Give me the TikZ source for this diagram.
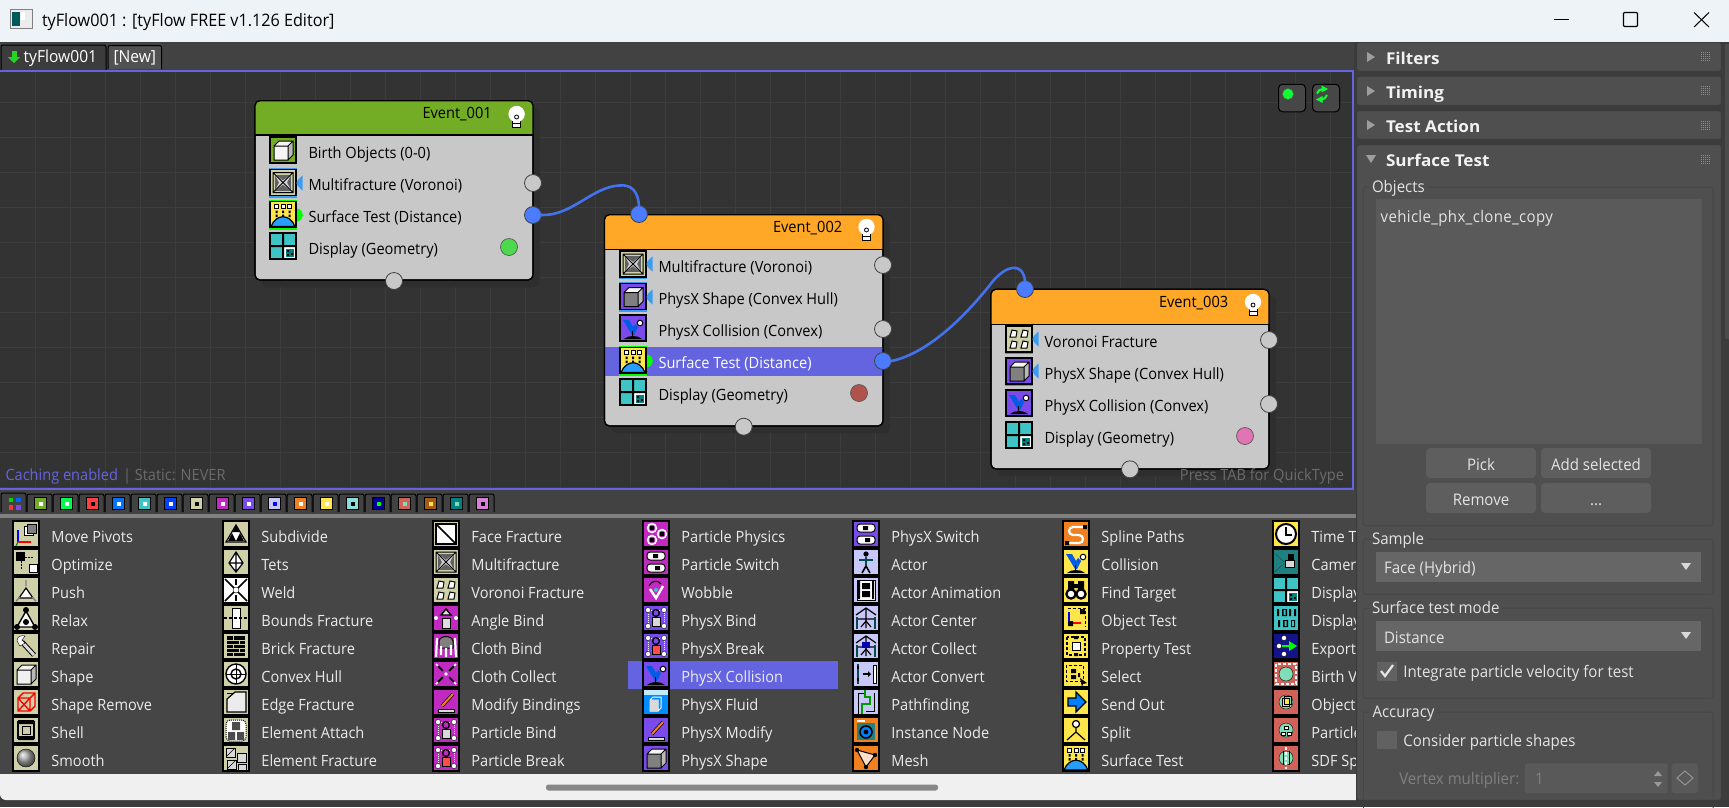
\documentclass[tikz,border=0pt]{standalone}
\usepackage{fontspec}
\setmainfont[FakeStretch=0.94]{Open Sans}
\newfontfamily\rollfont[FakeStretch=1.05]{Open Sans}
\definecolor{selblue}{HTML}{6464E0}
\definecolor{canvasbg}{HTML}{333333}
\definecolor{gridc}{HTML}{3D3D3D}
\definecolor{nodegray}{HTML}{C8C8C8}
\definecolor{evgreen}{HTML}{73AD25}
\definecolor{evorange}{HTML}{FFA726}
\definecolor{wirec}{HTML}{4472EE}
\definecolor{portblue}{HTML}{4B7BFF}
\definecolor{listbg}{HTML}{464646}
\definecolor{panelbg}{HTML}{3C3C3C}
\definecolor{rollbg}{HTML}{4F4F4F}
\definecolor{rollln}{HTML}{3A3A3A}
\definecolor{boxbg}{HTML}{5A5A5A}
\definecolor{btnbg}{HTML}{5E5E5E}
\definecolor{combobg}{HTML}{666666}
\definecolor{paneltx}{HTML}{E4E4E4}
\definecolor{titlebg}{HTML}{EEF3F8}
\definecolor{tabbg}{HTML}{424242}
\definecolor{beige}{HTML}{CFCFA8}
\definecolor{mag}{HTML}{C02AC0}
\definecolor{purp}{HTML}{7A4BEA}
\definecolor{lav}{HTML}{C8C8F8}
\definecolor{yel}{HTML}{FFE64A}
\definecolor{ora}{HTML}{F08020}
\definecolor{tea}{HTML}{3EC4C4}
\definecolor{sal}{HTML}{D0625A}
\definecolor{mint}{HTML}{80DDB8}
\definecolor{tagblue}{HTML}{3E9CF0}
\tikzset{
 x=1pt,y=-1pt,
 every node/.style={inner sep=0pt,outer sep=0pt},
 txh/.style={text height=14pt,text depth=3.4pt},
 rowtx/.style={txh,anchor=west,text=black,font=\fontsize{15.5}{18}\selectfont},
 listtx/.style={txh,anchor=west,text=white!92!black,font=\fontsize{15.5}{18}\selectfont},
 paneltext/.style={txh,anchor=west,text=paneltx,font=\fontsize{16}{18}\selectfont},
 rolltx/.style={txh,anchor=west,text=white!95!black,font=\rollfont\fontsize{16.3}{18}\selectfont\bfseries},
 cantx/.style={txh,text=white!42!black,font=\fontsize{15.5}{18}\selectfont},
 port/.style={circle,draw=black!75,line width=.8pt,fill=nodegray,minimum size=17pt},
 blueport/.style={port,fill=portblue},
 disp/.style={circle,draw=black!65,line width=.7pt,minimum size=17pt},
 wire/.style={wirec,line width=2.6pt,line cap=round},
 grp/.style={draw=black!72,line width=1pt,rounded corners=3pt},
 btn/.style={text height=16pt,text depth=2pt,fill=btnbg,rounded corners=4pt,minimum width=110pt,minimum height=30pt,text=paneltx,font=\fontsize{16}{18}\selectfont},
 evbody/.style={draw=black,line width=1.2pt,fill=nodegray,rounded corners=5pt,minimum width=278pt,anchor=north west},
 canbtn/.style={draw=black,line width=1pt,fill=white!28!black,rounded corners=4pt,minimum width=27pt,minimum height=27.5pt},
}
% ---- icon glyphs: local box is 0..26 by 0..26
\newcommand\BX[1]{\fill[#1](0,0)rectangle(26,26);}
\newcommand\FR{\draw[black,line width=1.2pt](0,0)rectangle(26,26);}
\newcommand\icCube[2]{\BX{#1}\fill[#2](4,9)rectangle(18,23);\fill[white!92!gray](4,9)--(9,4)--(23,4)--(18,9)--cycle;\fill[white!45!gray](18,9)--(23,4)--(23,18)--(18,23)--cycle;\draw[black,line width=1pt](4,9)rectangle(18,23)(4,9)--(9,4)--(23,4)--(23,18)--(18,23)(18,9)--(23,4);\FR}
\newcommand\icMulti{\BX{beige}\fill[black!62](5,5)rectangle(21,21);\fill[white!82!black](5,5)--(13,11)--(21,5)--(17,13)--(21,21)--(13,15)--(5,21)--(9,13)--cycle;\draw[black,line width=1pt](3,3)--(5,5)--(21,21)--(23,23)(23,3)--(21,5)--(5,21)--(3,23)(3,3)--(23,3)--(23,23)--(3,23)--cycle;\FR}
\newcommand\icVoro{\BX{beige}\foreach \a/\b in {4/4,15/4,4/15,15/15}{\draw[black,fill=white,line width=1pt](\a,\b+7)--(\a+2,\b)--(\a+7,\b+1)--(\a+6,\b+7)--cycle;}\FR}
\newcommand\icSurf{\BX{yel}\foreach \a in {4.5,11,17.5}{\draw[black,fill=white,line width=1pt](\a,3)rectangle(\a+4,7);\fill[black](\a+1,9)rectangle(\a+3,11.5)(\a+1,13)rectangle(\a+3,15.5);}\draw[black,fill=blue!45!cyan!85,line width=1.2pt](1,25)..controls(6,12)and(20,12)..(25,25)--cycle;\FR}
\newcommand\icDisp{\BX{tea}\fill[white](14,14)rectangle(26,26);\fill[black](0,12)rectangle(26,14)(12,0)rectangle(14,26);\fill[teal](16,16)rectangle(24,24);\fill[black](17,17)rectangle(19,19)(21,20)rectangle(23,22)(17,21)rectangle(19,23);\FR}
\newcommand\icColl[1]{\BX{#1}\fill[black](4,24)..controls(8,20)and(18,20)..(22,24)--cycle;\fill[blue!60!cyan!90!black](3,5)--(9,5)--(13,12)--(15,9)--(18,12)--(14,20)--(12,20)--cycle;\draw[black,line width=1pt](12,16)--(12,21);\draw[black,fill=white,line width=1pt](20,8)circle(2.8);\FR}
\newcommand\GL[1]{\BX{beige}#1\FR}
\newcommand\MG[1]{\BX{mag}#1\FR}
\newcommand\PU[1]{\BX{purp}#1\FR}
\newcommand\LV[1]{\BX{lav}#1\FR}
\newcommand\YE[1]{\BX{yel}#1\FR}
\newcommand\OR[1]{\BX{ora}#1\FR}
\newcommand\SL[1]{\BX{sal}#1\FR}
\newcommand\icSwitch{\draw[black,fill=white,rounded corners=3pt,line width=1pt](4,3)rectangle(22,11)(4,15)rectangle(22,23);\fill[black](10,5)rectangle(15,9)(12,17)rectangle(17,21);}
\newcommand\icBind[1]{\draw[white,densely dotted,line width=1pt](5,5)rectangle(21,21);\foreach \a/\b in {5/5,21/5,5/21,21/21}{\fill[white,draw=black](\a,\b)circle(2.6);}\draw[black,fill=#1,line width=1pt](9,12)rectangle(17,21);\draw[black,line width=1.4pt](13,8)circle(3.4);}
\newcommand\icActor{\fill[black](13,5)circle(2.6);\draw[teal!60!black,line width=2.2pt](13,8)--(13,18)(6,11)--(20,11);\draw[black,line width=1.6pt](13,17)--(9,24)(13,17)--(17,24);}
\newcommand\icNet{\draw[black,line width=1.2pt](3,10)--(13,3)--(23,10)(13,3)--(13,23)(5,14)--(21,14);\draw[teal!60!black,line width=2pt](4,12)--(4,24)(22,12)--(22,24);\draw[black,line width=1.2pt](8,22)--(13,16)--(18,22);}
\newcommand\icBlob{\fill[mint,draw=black](13,13)circle(7);}
% ---- list entry: x of icon, row index, icon, label
\newcommand\LI[4]{\begin{scope}[shift={(#1,521+28*#2)}]#3\end{scope}\node[listtx] (li#1r#2) at ({#1+38.4},536.7+28*#2) {#4};}
% ---- small tags beside a node row icon
\newcommand\TG[2]{\fill[tagblue]({#1+6},#2-7.5)..controls({#1+3},#2-5)and(#1,#2-2)..(#1,#2)..controls(#1,#2+2)and({#1+3},#2+5)..({#1+6},#2+7.5)--cycle;}
\newcommand\GT[2]{\fill[green](#1,#2-6.5)..controls({#1+8},#2-5)and({#1+8},#2+5)..(#1,#2+6.5)--cycle;}
\newcommand\RI[3]{\begin{scope}[shift={(#1,#2)}]#3\end{scope}}
\newcommand\SELB[3]{\draw[#3,line width=1.4pt](#1-.7,#2-.7)rectangle(#1+26.7,#2+27.3);}
\newcommand\BULB[2]{\draw[black,line width=.8pt,fill=white](#1-4,#2+3)rectangle(#1+4,#2+10);\draw[black,line width=.8pt](#1-4,#2+6.5)--(#1+4,#2+6.5);\fill[white](#1,#2-3)circle(8.2);\draw[black,line width=.8pt](#1,#2)circle(2);}
\newcommand\CT[3]{\draw[black,line width=1pt,fill=tabbg,rounded corners=2pt]({1+26*#1},512)--({1+26*#1},494)--({26+26*#1},494)--({26+26*#1},512);\fill[#2,draw=black,line width=1pt]({8.5+26*#1},497.5)rectangle({20.5+26*#1},509.5);\fill[#3]({12.5+26*#1},501.5)rectangle({16.5+26*#1},505.5);}
\newcommand\GRIP[1]{\foreach \k in {0,1,2,3,4}{\draw[white!55!black,line width=.9pt,dash pattern=on 1pt off 1pt](1701,#1-4+2*\k)--(1711,#1-4+2*\k);}}
\newcommand\ROLL[4]{\fill[rollbg,draw=rollln,rounded corners=2pt](1357,#1)rectangle(1721,#2);\node[rolltx] (roll#1) at (1386,#1+16) {#3};#4\GRIP{#1+14}}
\newcommand\TR[1]{\fill[white!62!black](1367,#1-5)--(1367,#1+5)--(1375,#1)--cycle;}
\newcommand\DD[1]{\fill[white!85!black](1681,#1-3)--(1691,#1-3)--(1686,#1+4)--cycle;}
\begin{document}
\begin{tikzpicture}
\useasboundingbox (0,0) rectangle (1729,807);
\fill[panelbg] (0,0) rectangle (1729,807);
% title bar
\fill[titlebg] (0,0) rectangle (1729,42);
\fill[white!85!gray,draw=gray] (10,9) rectangle (32,28);
\fill[teal!70!black] (12,12) rectangle (20,26);
\fill[white] (21,12) rectangle (25,20);
\node[anchor=west,text=black,text height=16.4pt,text depth=3pt,font=\fontsize{17.2}{20}\selectfont] (title) at (42,20) {tyFlow001 : [tyFlow FREE v1.126 Editor]};
\draw[black,line width=1pt] (1554,19.5) -- (1569,19.5);
\draw[black,line width=1.2pt,rounded corners=1pt] (1623.5,12.5) rectangle (1637.5,26.5);
\draw[black,line width=1pt] (1694,12.5) -- (1709,27) (1709,12.5) -- (1694,27);
% tab bar
\fill[tabbg] (0,42) rectangle (1354,70);
\draw[black,line width=1pt,fill=panelbg,rounded corners=2pt] (1,70) -- (1,45) -- (106,45) -- (106,70);
\draw[black,line width=1pt,fill=tabbg!92!white,rounded corners=2pt] (108,69) -- (108,45.5) -- (161.5,45.5) -- (161.5,69);
\fill[green!80!black!85] (8,57) -- (20,57) -- (14,63) -- cycle;
\fill[green!80!black!85] (11.5,51) rectangle (16.5,58);
\node[txh,anchor=west,text=white,font=\fontsize{16.6}{18}\selectfont] (tab1) at (23.7,57) {tyFlow001};
\node[txh,anchor=west,text=white,font=\fontsize{16.6}{18}\selectfont] (tab2) at (113.5,57) {[New]};
% canvas
\fill[canvasbg] (0,70) rectangle (1353,489);
\foreach \i in {1,...,38}{\draw[gridc,line width=1pt] ({35*\i},71) -- ({35*\i},488);}
\foreach \i in {0,...,11}{\draw[gridc,line width=1pt] (0,{102.7+35*\i}) -- (1352,{102.7+35*\i});}
\draw[selblue,line width=1.6pt] (0,70.7) -- (1352.7,70.7) -- (1352.7,488.7) -- (0,488.7);
\node[cantx,anchor=west,text=selblue] (cache) at (5.5,475) {Caching enabled};
\node[cantx,anchor=west] (stat) at (123,475) {| Static: NEVER};
% canvas buttons
\node[canbtn] (bt1) at (1292,98) {};
\node[canbtn] (bt2) at (1326,98) {};
\fill[green!85!cyan!95,draw=black!60] (1288,94) circle (5.5);
\draw[green!85!cyan!95,line width=2pt] (1317,93.5) .. controls (1318,90.5) and (1320,89) .. (1323,89);
\fill[green!85!cyan!95] (1321.5,85.5) -- (1321.5,92.5) -- (1328,89) -- cycle;
\draw[green!85!cyan!95,line width=2pt] (1327,95) .. controls (1326,98) and (1324,99.5) .. (1321,99.5);
\fill[green!85!cyan!95] (1322.5,96) -- (1322.5,103) -- (1316,99.5) -- cycle;
% ===== Event_001
\fill[black!82,rounded corners=5pt] (262,108) rectangle (540,287);
\node[evbody,minimum height=179.3pt] (ev1) at (255,100.7) {};
\begin{scope}
\clip[rounded corners=5pt] (255,100.7) rectangle (533,280);
\fill[evgreen] (255,100) rectangle (533,135);
\end{scope}
\draw[black,line width=1.2pt] (255,135) -- (533,135);
\draw[black,line width=1.2pt,rounded corners=5pt] (255,100.7) rectangle (533,280);
\node[rowtx] (ev1t) at (422.5,113) {Event\_001};
\BULB{516.6}{117}
\RI{270}{137}{\icCube{evgreen}{white!92!gray}}
\SELB{270}{169.5}{tagblue}\RI{270}{169.5}{\icMulti}\TG{296.5}{183}
\SELB{270}{201.5}{green}\RI{270}{201.5}{\icSurf}\GT{297}{215}
\RI{270}{233}{\icDisp}
\node[rowtx] (r11) at (308.5,153) {Birth Objects (0-0)};
\node[rowtx] (r12) at (308.5,185) {Multifracture (Voronoi)};
\node[rowtx] (r13) at (308.5,217) {Surface Test (Distance)};
\node[rowtx] (r14) at (308.5,249) {Display (Geometry)};
\node[port] (e1a) at (533,183) {};
\node[blueport] (e1o) at (533,215) {};
\node[disp,fill=green!65!white!85!black] (e1d) at (509,247) {};
\node[port] (e1b) at (394,281) {};
% ===== Event_002
\fill[black!82,rounded corners=5pt] (611.5,221) rectangle (890,433);
\node[evbody,minimum width=278.5pt,minimum height=211.3pt] (ev2) at (604.5,214.7) {};
\begin{scope}
\clip[rounded corners=5pt] (604.5,214.7) rectangle (883,426);
\fill[evorange] (604,214) rectangle (883,249.7);
\fill[selblue] (604,347) rectangle (883,376);
\end{scope}
\draw[black,line width=1.2pt] (604.5,249.7) -- (883,249.7);
\draw[black,line width=1.2pt,rounded corners=5pt] (604.5,214.7) rectangle (883,426);
\node[rowtx] (ev2t) at (773,226.7) {Event\_002};
\BULB{866.5}{230}
\SELB{620}{251}{tagblue}\RI{620}{251}{\icMulti}\TG{646.5}{264}
\SELB{620}{283.5}{tagblue}\RI{620}{283.5}{\icCube{purp}{gray}}\TG{646.5}{297}
\RI{620}{315}{\icColl{purp}}
\SELB{620}{347.5}{green}\RI{620}{347.5}{\icSurf}\GT{647}{361}
\RI{620}{379}{\icDisp}
\node[rowtx] (r21) at (658.5,266.7) {Multifracture (Voronoi)};
\node[rowtx] (r22) at (658.5,298.7) {PhysX Shape (Convex Hull)};
\node[rowtx] (r23) at (658.5,330.7) {PhysX Collision (Convex)};
\node[rowtx,text=white] (r24) at (658.5,362.7) {Surface Test (Distance)};
\node[rowtx] (r25) at (658.5,394.7) {Display (Geometry)};
\node[blueport] (e2i) at (639,214) {};
\node[port] (e2a) at (883,265) {};
\node[port] (e2b) at (883,329) {};
\node[blueport] (e2o) at (883,361) {};
\node[disp,fill=sal!85!black] (e2d) at (859,393) {};
\node[port] (e2c) at (743.7,426.7) {};
% ===== Event_003
\fill[black!82,rounded corners=5pt] (998,296) rectangle (1276,476);
\node[evbody,minimum height=179.7pt] (ev3) at (991,289.3) {};
\begin{scope}
\clip[rounded corners=5pt] (991,289.3) rectangle (1269,469);
\fill[evorange] (990,289) rectangle (1270,324.7);
\end{scope}
\draw[black,line width=1.2pt] (991,324.7) -- (1269,324.7);
\draw[black,line width=1.2pt,rounded corners=5pt] (991,289.3) rectangle (1269,469);
\node[rowtx] (ev3t) at (1159,301.7) {Event\_003};
\BULB{1253}{305}
\SELB{1006}{326}{tagblue}\RI{1006}{326}{\icVoro}\TG{1032.5}{339}
\SELB{1006}{358}{tagblue}\RI{1006}{358}{\icCube{purp}{gray}}\TG{1032.5}{371}
\RI{1006}{390}{\icColl{purp}}
\RI{1006}{422}{\icDisp}
\node[rowtx] (r31) at (1044.6,341.7) {Voronoi Fracture};
\node[rowtx] (r32) at (1044.6,373.7) {PhysX Shape (Convex Hull)};
\node[rowtx] (r33) at (1044.6,405.7) {PhysX Collision (Convex)};
\node[rowtx] (r34) at (1044.6,437.7) {Display (Geometry)};
\node[blueport] (e3i) at (1025,289) {};
\node[port] (e3a) at (1269,340) {};
\node[port] (e3b) at (1269,404) {};
\node[disp,fill=magenta!55!white!90!black] (e3d) at (1245,436) {};
\node[port] (e3c) at (1130,469.3) {};
\node[cantx,anchor=east] (press) at (1344,475) {Press TAB for QuickType};
% wires
\coordinate (w1) at (619,185.5);
\coordinate (w2) at (993,281);
\draw[wire] (e1o.east) .. controls (572,216) and (592,187) .. (w1) .. controls (632,184) and (638,192) .. (e2i.north);
\draw[wire] (e2o.east) .. controls (925,354) and (962,321) .. (w2) .. controls (1006,266) and (1022,261) .. (e3i.north);
% ===== lower list
\fill[tabbg] (0,489.5) rectangle (1356,514);
\fill[white!50!black] (0,514) rectangle (1356,518);
\fill[listbg] (0,518) rectangle (1356,774);
\draw[black,line width=1pt,fill=tabbg,rounded corners=2pt] (1,512) -- (1,493) -- (26,493) -- (26,512);
\fill[green!85!black] (8.5,497.5) rectangle (12.5,502);
\fill[blue!60!cyan] (16,497.5) rectangle (20.5,502);
\fill[red!80!white] (8.5,505) rectangle (12.5,509.5);
\fill[purp] (16,505) rectangle (20.5,509.5);
\CT{1}{evgreen}{white}\CT{2}{green!70!cyan}{white}\CT{3}{red!75!white}{black}\CT{4}{blue!55!cyan}{white}\CT{5}{tea}{white}\CT{6}{blue!75!cyan}{white}\CT{7}{beige}{black}\CT{8}{mag}{white}\CT{9}{purp}{white}\CT{10}{lav}{blue}\CT{11}{ora}{white}\CT{12}{yel}{white}\CT{13}{tea!60!white}{black}\CT{14}{blue!60!black}{green}\CT{15}{sal}{mint}\CT{16}{ora!70!black}{yel}\CT{17}{teal}{mint}\CT{18}{mag!60!white}{black}
% highlight
\fill[selblue] (628,661) rectangle (838,689);
% col 1
\LI{13}{0}{\GL{\draw[black,fill=white](11,5)rectangle(20,14);\draw[black,fill=gray](14,3)rectangle(23,12);\draw[blue,line width=1.2pt](5,21)--(5,9);\draw[red,line width=1.2pt](5,21)--(18,21);\draw[green!60!black,line width=1.2pt](5,21)--(3,25);}}{Move Pivots}
\LI{13}{1}{\GL{\fill[black](3,3)rectangle(12,12);\draw[black,fill=white](16,15)rectangle(24,23);\draw[black,densely dotted](12,8)--(20,8)(8,12)--(8,20);}}{Optimize}
\LI{13}{2}{\GL{\draw[black,fill=white,line width=1.2pt](13,11)--(20,21)--(6,21)--cycle;\draw[gray,line width=1.4pt](13,9)--(13,3)(3,24)--(7,20)(23,24)--(19,20);}}{Push}
\LI{13}{3}{\GL{\fill[white](13,6)--(22,22)--(4,22)--cycle;\draw[black,line width=1.4pt](13,6)--(22,22)--(4,22)--cycle;\fill[black](13,5)circle(3)(4,22)circle(3)(22,22)circle(3)(13,17)circle(3);}}{Relax}
\LI{13}{4}{\GL{\draw[black,line width=5pt](9,9)--(21,22);\draw[white!70!gray,line width=3pt](9,9)--(21,22);\draw[black,fill=white](4,8)..controls(4,3)and(9,2)..(12,3)--(9,7)--(12,10)--(7,13)--cycle;}}{Repair}
\LI{13}{5}{\icCube{beige}{white!88!gray}}{Shape}
\LI{13}{6}{\GL{\draw[red,line width=1.4pt](5,9)rectangle(17,22)(5,9)--(10,4)--(22,4)--(22,17)--(17,22)(17,9)--(22,4)(5,9)--(17,22)(17,9)--(5,22);}}{Shape Remove}
\LI{13}{7}{\GL{\draw[black,line width=1.4pt](5,5)rectangle(21,21);\fill[black](5,3)rectangle(21,7)(5,19)rectangle(21,23);\draw[black](9,9)rectangle(17,17);}}{Shell}
\LI{13}{8}{\GL{\shade[ball color=gray!70!white,draw=black](13,13)circle(9);}}{Smooth}
% col 2
\LI{223}{0}{\GL{\draw[black,fill=white,line width=1.2pt](13,4)--(23,21)--(3,21)--cycle;\fill[black](13,4)--(16.5,11)--(9.5,11)--cycle (9,12)--(13,20)--(5,20)--cycle (17,12)--(21,20)--(13,20)--cycle;}}{Subdivide}
\LI{223}{1}{\GL{\draw[black,fill=white,line width=1.2pt](13,3)--(20,14)--(13,23)--(6,14)--cycle(13,3)--(13,23)(6,14)--(20,14);}}{Tets}
\LI{223}{2}{\GL{\fill[white](0,0)rectangle(26,26);\draw[black,line width=1.6pt](2,2)--(24,24)(24,2)--(2,24);\draw[black,line width=1.8pt](13,2)--(13,8)(13,24)--(13,18);\fill[white,draw=black](13,13)circle(3);}}{Weld}
\LI{223}{3}{\GL{\fill[white,draw=black](9,3)rectangle(17,23);\draw[black,densely dashed,line width=1.2pt](1,13)--(25,13);}}{Bounds Fracture}
\LI{223}{4}{\GL{\fill[black](4,3)rectangle(22,23);\draw[beige,line width=1pt](4,7)--(22,7)(4,11)--(22,11)(4,15)--(22,15)(4,19)--(22,19)(10,3)--(10,7)(16,7)--(16,11)(10,11)--(10,15)(16,15)--(16,19)(10,19)--(10,23);}}{Brick Fracture}
\LI{223}{5}{\GL{\draw[black,fill=white,line width=1.4pt](13,13)circle(10);\draw[black,line width=1.4pt](13,13)circle(5);\draw[black,line width=1pt](3,13)--(23,13)(13,3)--(13,23);}}{Convex Hull}
\LI{223}{6}{\GL{\draw[black,fill=white!85!gray,line width=1.2pt](4,23)--(4,10)--(12,3)--(23,3)--(23,23)--cycle;\draw[black](4,4)--(11,4);}}{Edge Fracture}
\LI{223}{7}{\GL{\draw[black,densely dotted,fill=white,rounded corners=4pt,line width=1pt](3,24)--(3,3)--(23,3)--(23,24)--cycle;\fill[black!70](9,5)rectangle(17,13)(5,15)rectangle(12,23)(14,15)rectangle(21,23);}}{Element Attach}
\LI{223}{8}{\GL{\draw[black,fill=white!70!gray](3,3)rectangle(12,12)(14,8)rectangle(23,17)(4,15)rectangle(13,24)(15,19)rectangle(23,25);\draw[black](3,12)--(12,3)(4,24)--(13,15);}}{Element Fracture}
% col 3
\LI{433}{0}{\GL{\fill[white](3,3)rectangle(23,23);\draw[black,line width=1.6pt](3,3)rectangle(23,23)(3,3)--(23,23);}}{Face Fracture}
\LI{433}{1}{\icMulti}{Multifracture}
\LI{433}{2}{\icVoro}{Voronoi Fracture}
\LI{433}{3}{\MG{\draw[black,line width=1.4pt,fill=white!75!gray](8,10)--(13,4)--(18,10)--cycle;\draw[black,fill=white!75!gray,line width=1pt](9,13)rectangle(17,23);\fill[white](3,13)circle(2)(23,13)circle(2);}}{Angle Bind}
\LI{433}{4}{\MG{\draw[black,fill=gray,line width=1pt](6,15)--(6,8)..controls(7,2)and(19,2)..(20,8)--(20,15)--cycle;\draw[white,line width=2.2pt,rounded corners=2pt](8,22)--(8,13)(13,24)--(13,15)(18,22)--(18,12)(4,5)--(3,24)(22,5)--(23,24);}}{Cloth Bind}
\LI{433}{5}{\MG{\draw[white,line width=1.6pt](3,3)--(10,10)(23,3)--(16,10)(3,23)--(10,16)(23,23)--(16,16);\draw[black,line width=2pt](5,5)--(10,10)(21,5)--(16,10)(5,21)--(10,16)(21,21)--(16,16);\fill[white](13,13)circle(1.8);}}{Cloth Collect}
\LI{433}{6}{\MG{\draw[black,line width=3.4pt](9,17)--(20,5);\draw[ora,line width=2pt](9,17)--(20,5);\fill[white!70!gray,draw=black](5,20)rectangle(21,23);}}{Modify Bindings}
\LI{433}{7}{\MG{\icBind{white!70!gray}}}{Particle Bind}
\LI{433}{8}{\MG{\icBind{red!70!white}}}{Particle Break}
% col 4
\LI{643}{0}{\MG{\draw[white,fill=mag,line width=1.6pt](9,7)circle(4.4)(9,19)circle(4.4)(19,13)circle(4.4);\fill[black](7,5)rectangle(11,9)(7,17)rectangle(11,21)(17,11)rectangle(21,15);}}{Particle Physics}
\LI{643}{1}{\MG{\icSwitch}}{Particle Switch}
\LI{643}{2}{\MG{\draw[white,line width=2.4pt](7,12)--(13,21)--(20,9);\draw[black,line width=1pt](6,9)..controls(8,3)and(16,3)..(18,7);\fill[tea](13,13)circle(2);}}{Wobble}
\LI{643}{3}{\PU{\icBind{white!70!gray}}}{PhysX Bind}
\LI{643}{4}{\PU{\icBind{red!70!white}}}{PhysX Break}
\LI{643}{5}{\icColl{purp}}{PhysX Collision}
\LI{643}{6}{\BX{blue!45!cyan}\fill[white!75!cyan](0,0)rectangle(26,6);\draw[white,line width=1pt](7,11)rectangle(15,22)(7,11)--(10,8)--(18,8)--(18,19)--(15,22);\fill[white!70!gray](7,11)rectangle(15,22);\FR}{PhysX Fluid}
\LI{643}{7}{\PU{\draw[black,line width=3.4pt](9,17)--(20,5);\draw[ora,line width=2pt](9,17)--(20,5);\fill[white!70!gray,draw=black](5,20)rectangle(21,23);}}{PhysX Modify}
\LI{643}{8}{\icCube{purp}{gray}}{PhysX Shape}
% col 5
\LI{853}{0}{\PU{\icSwitch}}{PhysX Switch}
\LI{853}{1}{\LV{\icActor}}{Actor}
\LI{853}{2}{\LV{\draw[black,fill=white,line width=1pt](4,3)rectangle(22,23);\fill[black](5,4)rectangle(7,22)(19,4)rectangle(21,22)(9,6)rectangle(17,12)(9,14)rectangle(17,20);}}{Actor Animation}
\LI{853}{3}{\LV{\icNet}}{Actor Center}
\LI{853}{4}{\LV{\icNet\fill[blue!70!black](9,9)rectangle(17,15);}}{Actor Collect}
\LI{853}{5}{\LV{\draw[teal!60!black,line width=2.4pt](5,3)--(5,23);\draw[black,line width=1.4pt](5,5)--(5,8)(5,17)--(5,20)(10,13)--(15,13);\fill[black](15,10)--(18,13)--(15,16)--cycle;\draw[black,fill=white](20,4)rectangle(23,22);}}{Actor Convert}
\LI{853}{6}{\LV{\draw[black,line width=1pt](5,25)--(5,4)--(12,4)(21,4)--(21,22)--(13,22);\draw[green!60!black,line width=1.6pt](12,0)--(12,8)--(17,8)--(17,15)--(9,15)--(9,25);}}{Pathfinding}
\LI{853}{7}{\OR{\fill[teal!70!gray](4,6)rectangle(22,23);\draw[black,fill=blue!50!cyan,line width=1.6pt](13,15)circle(6);\fill[black](13,15)circle(2.4);\fill[white](4,3)rectangle(12,4.5);}}{Instance Node}
\LI{853}{8}{\OR{\draw[black,fill=white!75!ora,line width=1pt](4,5)--(22,10)--(13,22)--cycle;\fill[black](4,5)circle(2.2)(22,10)circle(2.2)(13,22)circle(2.2);}}{Mesh}
% col 6
\LI{1063}{0}{\OR{\draw[white,line width=2.2pt,rounded corners=4pt](5,22)--(20,22)--(20,14)--(6,14)--(6,6)--(20,6);\fill[black](2,20)rectangle(6,24)(20,4)rectangle(24,8);}}{Spline Paths}
\LI{1063}{1}{\icColl{yel}}{Collision}
\LI{1063}{2}{\YE{\draw[black,fill=white,line width=2.2pt](8,17)circle(4.6)(18,17)circle(4.6);\fill[black](5,4)rectangle(11,13)(15,4)rectangle(21,13)(11,7)rectangle(15,11);}}{Find Target}
\LI{1063}{3}{\YE{\draw[black,densely dashed,line width=1pt](5,3)--(22,3)--(22,22);\draw[blue,line width=1.2pt](6,7)--(6,21);\draw[red,line width=1.2pt](6,18)--(18,18);\fill[black](17,4)rectangle(22,9)(5,16)rectangle(10,21);}}{Object Test}
\LI{1063}{4}{\YE{\draw[black,densely dashed,line width=1.2pt](4,4)rectangle(22,22);\draw[black,fill=white,line width=1pt](9,9)rectangle(17,17);\fill[black](11,3)rectangle(15,6)(11,20)rectangle(15,23);}}{Property Test}
\LI{1063}{5}{\YE{\draw[black,densely dashed,line width=1pt](3,4)rectangle(20,20);\fill[black](8,8)rectangle(13,12)(8,14)rectangle(13,18)(15,12)rectangle(17,16);\fill[black](17,17)--(24,22)--(20,23)--(19,26)--cycle;}}{Select}
\LI{1063}{6}{\YE{\draw[black,fill=blue!50!cyan,line width=1.2pt](5,9)--(13,9)--(13,3)--(23,13)--(13,23)--(13,17)--(5,17)--cycle;}}{Send Out}
\LI{1063}{7}{\YE{\draw[black,fill=white,line width=1.2pt](13,7)circle(3.5);\draw[black,line width=1.2pt](13,11)--(13,15)--(4,23)(13,15)--(22,23);}}{Split}
\LI{1063}{8}{\icSurf}{Surface Test}
% col 7
\LI{1273}{0}{\YE{\draw[black,fill=white,line width=2pt](13,13)circle(10);\draw[black,line width=2pt](13,6)--(13,14)--(19,14);}}{Time T}
\LI{1273}{1}{\BX{teal!75!gray}\draw[black,fill=white!70!gray](12,11)rectangle(21,18);\fill[black](15,5)rectangle(21,11);\draw[black,densely dotted](1,4)--(11,13)(1,23)--(11,15);\FR}{Camer}
\LI{1273}{2}{\icDisp}{Display}
\LI{1273}{3}{\BX{tea}\fill[black](4,4)rectangle(6,11)(9,4)rectangle(14,11)(16,4)rectangle(18,11)(21,4)rectangle(23,11)(5,15)rectangle(7,22)(10,15)rectangle(15,22)(18,15)rectangle(22,22);\fill[tea](10.5,5)rectangle(12.5,10)(11.5,16)rectangle(13.5,21)(19,16)rectangle(21,21);\FR}{Display}
\LI{1273}{4}{\BX{blue!55!black!85!gray}\fill[white,draw=black](11,5)circle(2.6)(6,13)circle(2.6)(11,21)circle(2.6);\draw[green,line width=2.6pt](9,13)--(18,13);\fill[green](16,8)--(24,13)--(16,18)--cycle;\FR}{Export}
\LI{1273}{5}{\SL{\draw[white,densely dashed,line width=1.2pt](3,3)rectangle(23,23);\icBlob}}{Birth V}
\LI{1273}{6}{\SL{\icBlob\draw[black,fill=yel](9,9)rectangle(16,17);\draw[black](11,7)rectangle(18,15);}}{Object}
\LI{1273}{7}{\SL{\icBlob\draw[black,fill=white](11,9)rectangle(15,12)(8,15)rectangle(12,18)(14,15)rectangle(18,18);}}{Particle}
\LI{1273}{8}{\SL{\icBlob\draw[white,densely dashed,line width=2pt](13,2)--(13,24);\draw[black](10,6)--(10,20)(16,6)--(16,20);}}{SDF Sp}
% bottom strip
\fill[panelbg] (0,800) rectangle (1729,807);
\fill[white!94!black] (0,774) [rounded corners=6pt] -- (0,800) [sharp corners] -- (1356,800) -- (1356,774) -- cycle;
\fill[white!53!black,rounded corners=2.5pt] (546,784.5) rectangle (938,790.5);
% ===== right panel
\fill[panelbg] (1356,42) rectangle (1729,807);
\fill[white!30!black,rounded corners=1pt] (1725,44) rectangle (1731,339);
\ROLL{42.7}{71}{Filters}{\TR{57}}
\ROLL{76.7}{105}{Timing}{\TR{91}}
\ROLL{111}{139}{Test Action}{\TR{125}}
\fill[rollbg,draw=rollln,rounded corners=2pt] (1357,145) rectangle (1721,800);
\node[rolltx] (rollS) at (1386,161) {Surface Test};
\fill[white!62!black] (1366,155) -- (1376,155) -- (1371,163) -- cycle;
\GRIP{159}
% Objects
\draw[grp] (1363,187) rectangle (1713,525.7);
\node[fill=rollbg,paneltext,inner sep=2.5pt] (gobj) at (1369.5,187) {Objects};
\fill[boxbg,draw=white!35!black] (1375.7,199.3) rectangle (1701,442.7);
\node[paneltext,font=\fontsize{16}{18}\selectfont\addfontfeature{LetterSpace=2}] (objt) at (1380.7,216.7) {vehicle\_phx\_clone\_copy};
\node[btn] (bpick) at (1481,463) {Pick};
\node[btn] (badd) at (1596,463) {Add selected};
\node[btn] (brem) at (1481,498) {Remove};
\node[btn] (bdots) at (1596,498) {...};
% Sample
\draw[grp] (1363,539) rectangle (1713,594.3);
\node[fill=rollbg,paneltext,inner sep=2.5pt] (gsam) at (1369.5,539) {Sample};
\fill[combobg] (1375.7,552) rectangle (1701,582.3);
\node[paneltext] (csam) at (1384,568.3) {Face (Hybrid)};
\DD{566}
% Mode
\draw[grp] (1363,608) rectangle (1713,698.3);
\node[fill=rollbg,paneltext,inner sep=2.5pt] (gmod) at (1369.5,608) {Surface test mode};
\fill[combobg] (1375.7,620.7) rectangle (1701,651);
\node[paneltext] (cmod) at (1384,638) {Distance};
\DD{635}
\fill[white!38!black] (1377,661.7) rectangle (1396.7,680.7);
\draw[white!90!black,line width=2.2pt] (1381,671) -- (1385,676) -- (1393,665);
\node[paneltext] (chk1) at (1403.3,672.3) {Integrate particle velocity for test};
% Accuracy
\draw[grp] (1363,712) -- (1713,712) -- (1713,810);
\draw[grp] (1363,712) -- (1363,810);
\node[fill=rollbg,paneltext,inner sep=2.5pt] (gacc) at (1370,712) {Accuracy};
\fill[white!38!black] (1377,730.7) rectangle (1396.7,749.3);
\node[paneltext] (chk2) at (1403.3,741.3) {Consider particle shapes};
\node[paneltext,text=white!50!black] (vm) at (1399.3,779) {Vertex multiplier:};
\fill[white!35!black,rounded corners=2pt] (1525,763.3) rectangle (1667.7,793.3);
\node[paneltext,text=white!50!black] (vm1) at (1535,779) {1};
\fill[white!60!black] (1654,776) -- (1662,776) -- (1658,771) -- cycle (1654,782) -- (1662,782) -- (1658,787) -- cycle;
\fill[white!35!black,rounded corners=3pt] (1671.7,763.3) rectangle (1698,793.3);
\draw[white!60!black,line width=.9pt] (1677,778) -- (1685,771) -- (1693,778) -- (1685,785) -- cycle;
\fill[panelbg] (1356,800) rectangle (1729,807);
\end{tikzpicture}
\end{document}
